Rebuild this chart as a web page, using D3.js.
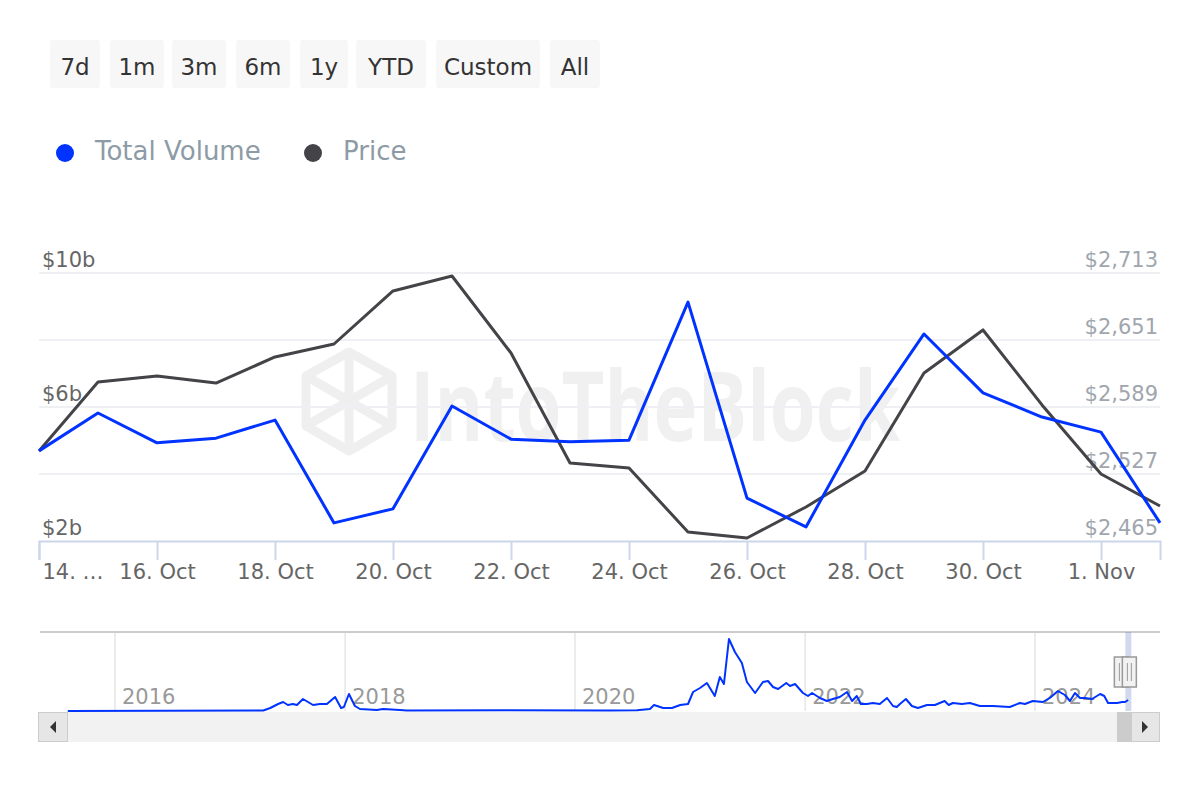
<!DOCTYPE html>
<html>
<head>
<meta charset="utf-8">
<script src="https://cdn.jsdelivr.net/npm/d3@7"></script>
<style>
  html, body { margin: 0; padding: 0; background: #ffffff; }
  svg { display: block; font-family: "DejaVu Sans", sans-serif; }
</style>
</head>
<body>
<svg id="chart" width="1200" height="800"></svg>
<script>
// ---------- data ----------
const rangeButtons = ["7d", "1m", "3m", "6m", "1y", "YTD", "Custom", "All"];
const seriesNames = ["Total Volume", "Price"];
const dates = ["2024-10-14","2024-10-15","2024-10-16","2024-10-17","2024-10-18","2024-10-19","2024-10-20",
  "2024-10-21","2024-10-22","2024-10-23","2024-10-24","2024-10-25","2024-10-26","2024-10-27",
  "2024-10-28","2024-10-29","2024-10-30","2024-10-31","2024-11-01","2024-11-02"];
// Total volume, $ billions
const volume = [4.69, 5.82, 4.93, 5.07, 5.61, 2.54, 2.96, 6.03, 5.04, 4.96, 5.01, 9.13, 3.28, 2.42,
  5.61, 8.18, 6.42, 5.70, 5.25, 2.54];
// Price, $
const price = [2548.3, 2612.1, 2617.7, 2611.2, 2635.3, 2647.3, 2696.4, 2710.2, 2639.0, 2537.2, 2532.6,
  2473.3, 2467.8, 2496.5, 2529.8, 2620.5, 2660.3, 2590.9, 2527.0, 2497.4];
const volumeTicks = [2, 4, 6, 8, 10];
const volumeTickLabels = ["$2b", "", "$6b", "", "$10b"];
const priceTicks = [2465, 2527, 2589, 2651, 2713];
const priceTickLabels = ["$2,465", "$2,527", "$2,589", "$2,651", "$2,713"];
const navYears = ["2016", "2018", "2020", "2022", "2024"];
// navigator (full history of total volume, $ billions, approximate)
const navDates = ["2015-08-04","2017-04-16","2017-05-08","2017-06-02","2017-06-18","2017-07-03","2017-07-19",
  "2017-08-01","2017-08-20","2017-09-05","2017-09-21","2017-10-13","2017-11-04","2017-11-30","2017-12-19",
  "2017-12-28","2018-01-13","2018-02-01","2018-02-17","2018-04-12","2018-05-01","2018-06-24","2018-07-16",
  "2019-05-17","2020-04-20","2020-07-16","2020-08-26","2020-09-08","2020-10-07","2020-11-04","2020-11-30",
  "2020-12-25","2021-01-10","2021-02-01","2021-02-23","2021-03-20","2021-04-05","2021-04-18","2021-05-04",
  "2021-05-23","2021-06-14","2021-06-30","2021-07-26","2021-08-20","2021-09-05","2021-09-21","2021-10-07",
  "2021-11-02","2021-11-14","2021-11-30","2021-12-25","2022-01-10","2022-01-23","2022-02-17","2022-03-11",
  "2022-03-30","2022-04-21","2022-05-14","2022-05-30","2022-06-14","2022-06-27","2022-07-16","2022-08-04",
  "2022-08-26","2022-09-18","2022-10-07","2022-10-19","2022-10-29","2022-11-17","2022-12-06","2022-12-25",
  "2023-01-23","2023-02-17","2023-03-20","2023-04-02","2023-04-15","2023-05-14","2023-06-08","2023-07-10",
  "2023-08-20","2023-10-13","2023-11-14","2023-11-30","2023-12-25","2024-01-26","2024-02-17","2024-03-14",
  "2024-04-05","2024-04-21","2024-05-07","2024-05-23","2024-06-08","2024-06-30","2024-07-26","2024-08-08",
  "2024-08-20","2024-09-18","2024-10-04","2024-10-13","2024-10-23"];
const navVolume = [0, 0.5, 3, 7, 9, 6, 7, 6, 12, 9, 6, 7, 7, 14, 3,
  4, 17, 5, 2, 1, 2, 1, 0.5,
  0.8, 0.5, 0.7, 2, 6, 3, 3, 6,
  7, 19, 23, 28, 15, 34, 27, 72,
  59, 48, 29, 18, 29, 30, 24, 22,
  28, 25, 27, 18, 15, 18, 13, 10,
  12, 14, 19, 10, 15, 7, 7, 8,
  7, 13, 5, 4, 7, 12, 5, 3,
  6, 6, 10, 6, 8, 7, 8, 5,
  5, 4, 8, 7, 10, 9, 13, 20,
  16, 10, 18, 13, 13, 12, 17, 15,
  8, 8, 9, 9, 11];

// ---------- setup ----------
const svg = d3.select("#chart");
const parse = d3.utcParse("%Y-%m-%d");
const BLUE = "#0033ff", DARK = "#434348";

const plot = { left: 39, right: 1160, top: 273, bottom: 541 };
const x = d3.scaleUtc().domain([parse(dates[0]), parse(dates[dates.length - 1])]).range([plot.left, plot.right]);
const yVol = d3.scaleLinear().domain([2, 10]).range([plot.bottom, plot.top]);
const yPrice = d3.scaleLinear().domain([2465, 2713]).range([plot.bottom, plot.top]);

// ---------- range buttons ----------
const btnBoxes = [[50,100],[110,164],[172,226],[236,290],[300,348],[356,426],[436,540],[550,600]];
const btn = svg.append("g").selectAll("g").data(rangeButtons).join("g");
btn.append("rect")
  .attr("x", (d, i) => btnBoxes[i][0]).attr("y", 40)
  .attr("width", (d, i) => btnBoxes[i][1] - btnBoxes[i][0]).attr("height", 48)
  .attr("rx", 3).attr("fill", "#f7f7f7");
btn.append("text")
  .attr("x", (d, i) => (btnBoxes[i][0] + btnBoxes[i][1]) / 2).attr("y", 75)
  .attr("text-anchor", "middle").attr("font-size", 23).attr("fill", "#333333")
  .text(d => d);

// ---------- legend ----------
const legendX = [65, 313];
const lg = svg.append("g").selectAll("g").data(seriesNames).join("g");
lg.append("circle").attr("cx", (d, i) => legendX[i]).attr("cy", 153).attr("r", 9)
  .attr("fill", (d, i) => i === 0 ? BLUE : DARK);
lg.append("text").attr("x", (d, i) => legendX[i] + 30).attr("y", 160)
  .attr("font-size", 26).attr("fill", "#8d9ba6").text(d => d);

// ---------- watermark ----------
const wm = svg.append("g").attr("fill", "none").attr("stroke", "#efefef").attr("stroke-width", 9)
  .attr("stroke-linejoin", "round");
wm.append("path").attr("d", "M349,352 L392,376 L392,426 L349,451 L306,426 L306,376 Z");
wm.append("path").attr("d", "M306,376 L349,401 L392,376 M349,401 L349,451 M306,426 L349,401 L392,426 M349,352 L349,401");
svg.append("text").attr("x", 410).attr("y", 441)
  .attr("font-family", "'Open Sans', 'DejaVu Sans', sans-serif").attr("font-weight", "bold")
  .attr("font-size", 96).attr("fill", "#f0f0f0")
  .attr("textLength", 490).attr("lengthAdjust", "spacingAndGlyphs")
  .text("IntoTheBlock");

// ---------- grid ----------
svg.append("g").selectAll("line").data(volumeTicks.slice(1)).join("line")
  .attr("x1", plot.left).attr("x2", plot.right)
  .attr("y1", d => yVol(d)).attr("y2", d => yVol(d))
  .attr("stroke", "#eef0f4").attr("stroke-width", 2);

// ---------- axes ----------
const xTicks = dates.filter((d, i) => i % 2 === 0).map(parse);
const fmt = d3.utcFormat("%-d. %b");
const xAxis = d3.axisBottom(x).tickValues(xTicks).tickSize(19).tickPadding(4)
  .tickFormat((d, i) => i === 0 ? "14. \u2026" : fmt(d));
const gx = svg.append("g").attr("transform", `translate(0,${plot.bottom})`).call(xAxis);
gx.select(".domain").attr("stroke", "#ccd6eb").attr("stroke-width", 2);
gx.selectAll(".tick line").attr("stroke", "#ccd6eb").attr("stroke-width", 2);
gx.selectAll(".tick text").attr("font-size", 21).attr("fill", "#666666")
  .attr("font-family", "'DejaVu Sans', sans-serif");
gx.selectAll(".tick text").filter((d, i) => i === 0).attr("text-anchor", "start").attr("dx", 3);

const yl = d3.axisLeft(yVol).tickValues(volumeTicks).tickSize(0)
  .tickFormat((d, i) => volumeTickLabels[i]);
const gyl = svg.append("g").attr("transform", `translate(42,-7)`).call(yl);
gyl.select(".domain").remove();
gyl.selectAll(".tick text").attr("text-anchor", "start").attr("x", 0).attr("dy", 0)
  .attr("font-size", 21).attr("fill", "#666666").attr("font-family", "'DejaVu Sans', sans-serif");

const yr = d3.axisRight(yPrice).tickValues(priceTicks).tickSize(0)
  .tickFormat((d, i) => priceTickLabels[i]);
const gyr = svg.append("g").attr("transform", `translate(1158,-7)`).call(yr);
gyr.select(".domain").remove();
gyr.selectAll(".tick text").attr("text-anchor", "end").attr("x", 0).attr("dy", 0)
  .attr("font-size", 21).attr("fill", "#a0a6ad").attr("font-family", "'DejaVu Sans', sans-serif");

// ---------- series ----------
const lineVol = d3.line().x((d, i) => x(parse(dates[i]))).y(d => yVol(d));
const linePrice = d3.line().x((d, i) => x(parse(dates[i]))).y(d => yPrice(d));
svg.append("path").datum(price).attr("d", linePrice).attr("fill", "none")
  .attr("stroke", DARK).attr("stroke-width", 3).attr("stroke-linejoin", "round");
svg.append("path").datum(volume).attr("d", lineVol).attr("fill", "none")
  .attr("stroke", BLUE).attr("stroke-width", 3).attr("stroke-linejoin", "round");

// ---------- navigator ----------
const nav = { left: 40, right: 1160, top: 632, bottom: 711 };
const xn = d3.scaleUtc().domain([parse("2016-01-01"), parse("2024-01-01")]).range([115, 1035]);
const yn = d3.scaleLinear().domain([0, 72]).range([nav.bottom, 639]);
const navGrid = navYears.map(y => parse(y + "-01-01"));
svg.append("g").selectAll("line").data(navGrid).join("line")
  .attr("x1", d => xn(d)).attr("x2", d => xn(d)).attr("y1", nav.top).attr("y2", nav.bottom)
  .attr("stroke", "#e6e6e6").attr("stroke-width", 1.5);
svg.append("g").selectAll("text").data(navYears).join("text")
  .attr("x", d => xn(parse(d + "-01-01")) + 7).attr("y", 704)
  .attr("font-size", 21).attr("fill", "#999999").text(d => d);
svg.append("line").attr("x1", nav.left).attr("x2", nav.right).attr("y1", nav.top).attr("y2", nav.top)
  .attr("stroke", "#cccccc").attr("stroke-width", 2);
// selected range mask
const selL = xn(parse(dates[0])), selR = xn(parse(dates[dates.length - 1]));
svg.append("rect").attr("x", selL).attr("y", nav.top).attr("width", selR - selL).attr("height", nav.bottom - nav.top)
  .attr("fill", "rgba(102,133,194,0.3)");
const navLine = d3.line().x((d, i) => xn(parse(navDates[i]))).y(d => yn(d));
svg.append("path").datum(navVolume).attr("d", navLine).attr("fill", "none")
  .attr("stroke", BLUE).attr("stroke-width", 2).attr("stroke-linejoin", "round");

// scrollbar
svg.append("rect").attr("x", 38).attr("y", 712).attr("width", 1122).attr("height", 30).attr("fill", "#f2f2f2");
svg.append("rect").attr("x", 1117).attr("y", 712).attr("width", 15).attr("height", 30).attr("fill", "#cccccc");
svg.append("rect").attr("x", 38.5).attr("y", 712.5).attr("width", 29).attr("height", 29)
  .attr("fill", "#e6e6e6").attr("stroke", "#cccccc");
svg.append("rect").attr("x", 1131.5).attr("y", 712.5).attr("width", 28).attr("height", 29)
  .attr("fill", "#e6e6e6").attr("stroke", "#cccccc");
svg.append("path").attr("d", "M50,727 L56,721 L56,733 Z").attr("fill", "#333");
svg.append("path").attr("d", "M1148,727 L1142,721 L1142,733 Z").attr("fill", "#333");

// handles
[selL - 11, selR - 9].forEach(hx => {
  svg.append("rect").attr("x", hx).attr("y", 657).attr("width", 14).attr("height", 30)
    .attr("fill", "#f2f2f2").attr("stroke", "#999999").attr("stroke-width", 1.5);
  svg.append("line").attr("x1", hx + 5).attr("x2", hx + 5).attr("y1", 663).attr("y2", 681).attr("stroke", "#999");
  svg.append("line").attr("x1", hx + 9).attr("x2", hx + 9).attr("y1", 663).attr("y2", 681).attr("stroke", "#999");
});
</script>
</body>
</html>
